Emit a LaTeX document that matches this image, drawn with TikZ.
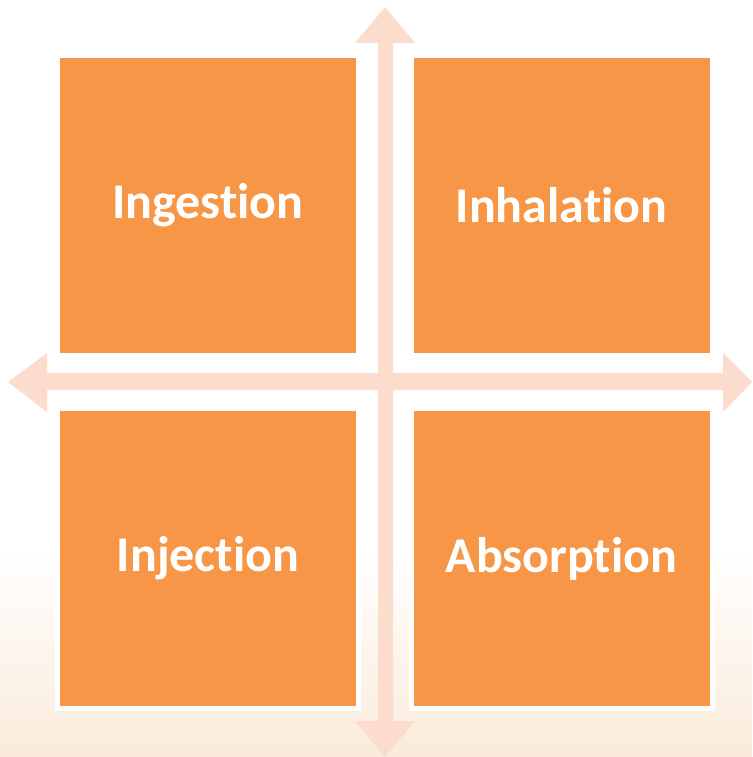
\documentclass[tikz,border=0pt]{standalone}
\usepackage{fontspec}
\setmainfont{Carlito}
\definecolor{boxorange}{HTML}{F79646}
\definecolor{axispeach}{HTML}{FBDCCD}
\definecolor{floorpeach}{HTML}{FAEBDA}
% keep "t" and "i" as separate glyphs (Carlito would join them)
\newcommand\tisplit{t\kern0pt i}
\begin{document}
\begin{tikzpicture}[x=1pt,y=-1pt,
  quad/.style={draw=white, line width=5pt, fill=boxorange,
    minimum width=301pt, minimum height=300pt, inner sep=0pt,
    text=white, font=\fontsize{50}{60}\selectfont\bfseries},
  axis/.style={fill=axispeach, draw=none}]
  % backdrop: white fading into a warm tint at the bottom
  \useasboundingbox (0,0) rectangle (752,757);
  \fill[white] (0,0) rectangle (752,551);
  \shade[top color=white, bottom color=floorpeach] (0,550) rectangle (752,757);

  % vertical double-headed axis
  \fill[axis] (385,7) -- (415,43) -- (393,43) -- (393,721) -- (415,721)
    -- (385,757) -- (355,721) -- (378,721) -- (378,43) -- (355,43) -- cycle;
  % horizontal double-headed axis
  \fill[axis] (8,382) -- (47,353) -- (47,373) -- (723,373) -- (723,353)
    -- (752,382) -- (723,412) -- (723,390) -- (47,390) -- (47,412) -- cycle;

  % the four quadrants
  \node[quad] (ingestion)  at (208,205.5) {Inges\tisplit on};
  \node[quad] (inhalation) at (561.5,205.5) {Inhala\tisplit on};
  \node[quad] (injection)  at (208,558.5) {Injec\tisplit on};
  \node[quad] (absorption) at (561.5,558.5) {Absorp\tisplit on};
\end{tikzpicture}
\end{document}
